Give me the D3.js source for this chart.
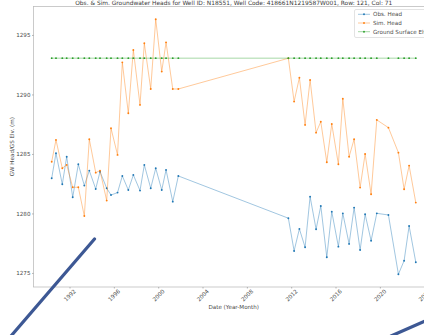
<!DOCTYPE html>
<html>
<head>
<meta charset="utf-8">
<script src="https://cdn.jsdelivr.net/npm/d3@7"></script>
<style>
  html, body { margin: 0; padding: 0; background: #fff; overflow: hidden; }
  svg { display: block; font-family: "DejaVu Sans", sans-serif; }
</style>
</head>
<body>
<svg id="chart" width="424" height="335"></svg>
<script>
// Measurement dates (spring / fall campaigns)
const dates = [
  "1990-05-24","1990-10-12","1991-05-08","1991-09-30","1992-04-15","1992-10-17",
  "1993-05-03","1993-10-14","1994-05-13","1994-10-02","1995-05-10","1995-09-29",
  "1996-05-01","1996-10-06","1997-04-22","1997-10-04","1998-05-12","1998-10-01",
  "1999-04-30","1999-10-12","2000-04-27","2000-09-16","2001-04-25","2001-10-26",
  "2011-09-30","2012-04-06","2012-09-27","2013-04-03","2013-09-15","2014-03-31",
  "2014-09-02","2015-03-19","2015-08-30","2016-04-04","2016-08-28","2017-03-23",
  "2017-09-04","2018-03-21","2018-09-02","2019-03-18","2019-09-22","2020-10-09",
  "2021-09-03","2022-03-10","2022-08-22","2023-03-30"
];

// Observed groundwater head (m)
const obsHead = [
  1282.96,1285.06,1282.45,1284.77,1281.36,1284.13,1282.34,1283.60,1282.06,1283.51,
  1282.12,1281.55,1281.75,1283.15,1281.97,1283.24,1281.92,1284.08,1282.12,1283.80,
  1281.97,1283.66,1280.99,1283.15,
  1279.60,1276.85,1278.70,1277.16,1281.41,1278.67,1280.63,1276.32,1280.15,1277.21,
  1280.01,1277.44,1280.49,1276.93,1279.93,1277.71,1280.01,1279.87,1274.89,1276.03,
  1278.95,1275.90
];

// Simulated groundwater head (m)
const simHead = [
  1284.35,1286.18,1283.80,1284.08,1282.20,1282.20,1279.79,1286.24,1283.43,1283.60,
  1281.08,1287.16,1284.92,1292.70,1288.42,1293.74,1289.12,1294.30,1290.46,1296.32,
  1291.92,1294.38,1290.46,1290.46,
  1293.04,1289.40,1291.41,1287.44,1291.22,1286.79,1287.71,1284.30,1287.52,1284.13,
  1289.64,1284.77,1286.23,1282.17,1285.00,1281.61,1287.86,1287.21,1285.11,1282.03,
  1284.02,1280.91
];

// Ground surface elevation (m)
const groundSurface = dates.map(() => 1293.05);

const seriesNames = ["Obs. Head", "Sim. Head", "Ground Surface Elv."];
const seriesColors = ["#1f77b4", "#ff7f0e", "#2ca02c"];
const yTickValues = [1275, 1280, 1285, 1290, 1295];

const title = "Obs. & Sim. Groundwater Heads for Well ID: N18551, Well Code: 418661N1219587W001, Row: 121, Col: 71";
const xLabel = "Date (Year-Month)";
const yLabel = "GW Head/GS Elv. (m)";

const parse = d3.timeParse("%Y-%m-%d");
const t = dates.map(parse);
const series = [obsHead, simHead, groundSurface].map((vals, i) => ({
  name: seriesNames[i],
  color: seriesColors[i],
  points: vals.map((v, j) => ({ date: t[j], value: v }))
}));

const svg = d3.select("#chart");
const plot = { left: 33.5, right: 434, top: 6.5, bottom: 287 };
const textColor = "#4a4a4a";
const fs = 5.6;

// Axis domains padded by 5% of the data range
const [tMin, tMax] = d3.extent(t);
const tPad = (tMax - tMin) * 0.05;
const x = d3.scaleTime()
  .domain([new Date(+tMin - tPad), new Date(+tMax + tPad)])
  .range([plot.left, plot.right]);

const allVals = obsHead.concat(simHead, groundSurface);
const [vMin, vMax] = d3.extent(allVals);
const vPad = (vMax - vMin) * 0.05;
const y = d3.scaleLinear()
  .domain([vMin - vPad, vMax + vPad])
  .range([plot.bottom, plot.top]);

// Frame
svg.append("rect")
  .attr("x", plot.left).attr("y", plot.top)
  .attr("width", plot.right - plot.left).attr("height", plot.bottom - plot.top)
  .attr("fill", "none").attr("stroke", "#bdbdbd").attr("stroke-width", 0.8);

// Y axis
const yAxis = svg.append("g")
  .attr("transform", `translate(${plot.left},0)`)
  .call(d3.axisLeft(y).tickValues(yTickValues).tickSize(1.5).tickPadding(1.5).tickFormat(d3.format("d")));
yAxis.select(".domain").remove();
yAxis.selectAll("line").attr("stroke", "#888").attr("stroke-width", 0.6);
yAxis.selectAll("text").attr("fill", textColor).style("font-size", fs + "px").style("font-family", "DejaVu Sans");

// X axis
const xTicks = x.ticks(d3.timeYear.every(4));
const xAxis = svg.append("g")
  .attr("transform", `translate(0,${plot.bottom})`)
  .call(d3.axisBottom(x).tickValues(xTicks).tickSize(1.5).tickFormat(d3.timeFormat("%Y")));
xAxis.select(".domain").remove();
xAxis.selectAll("line").attr("stroke", "#888").attr("stroke-width", 0.6);
xAxis.selectAll("text")
  .attr("fill", textColor)
  .style("font-size", fs + "px").style("font-family", "DejaVu Sans")
  .attr("y", 8.5).attr("dy", "0.32em")
  .attr("text-anchor", "middle")
  .attr("transform", "rotate(-45 0 8.5)");

// Axis labels and title
svg.append("text")
  .attr("x", (plot.left + plot.right) / 2).attr("y", 309)
  .attr("text-anchor", "middle").attr("fill", textColor)
  .style("font-size", fs + "px").text(xLabel);

svg.append("text")
  .attr("transform", `translate(13.5,${(plot.top + plot.bottom) / 2}) rotate(-90)`)
  .attr("text-anchor", "middle").attr("fill", textColor)
  .style("font-size", fs + "px").text(yLabel);

svg.append("text")
  .attr("x", (plot.left + plot.right) / 2).attr("y", 4.6)
  .attr("text-anchor", "middle").attr("fill", "#3a3a3a")
  .style("font-size", "5.9px").text(title);

// Series lines and markers
const line = d3.line().x(d => x(d.date)).y(d => y(d.value));
const g = svg.append("g");
series.forEach(s => {
  g.append("path")
    .datum(s.points)
    .attr("d", line)
    .attr("fill", "none")
    .attr("stroke", s.color)
    .attr("stroke-opacity", 0.42)
    .attr("stroke-width", 1);
  g.selectAll(null)
    .data(s.points)
    .join("circle")
    .attr("cx", d => x(d.date))
    .attr("cy", d => y(d.value))
    .attr("r", 0.95)
    .attr("fill", s.color);
});

// Legend
const lg = svg.append("g");
lg.append("rect")
  .attr("x", 354.5).attr("y", 9.5).attr("width", 90).attr("height", 28).attr("rx", 1.5)
  .attr("fill", "#fff").attr("fill-opacity", 0.85)
  .attr("stroke", "#d0d0d0").attr("stroke-width", 0.6);
series.forEach((s, i) => {
  const cy = 14.3 + i * 8.7;
  lg.append("line")
    .attr("x1", 358).attr("x2", 370).attr("y1", cy).attr("y2", cy)
    .attr("stroke", s.color).attr("stroke-opacity", 0.42).attr("stroke-width", 1);
  lg.append("circle").attr("cx", 364).attr("cy", cy).attr("r", 0.95).attr("fill", s.color);
  lg.append("text")
    .attr("x", 373).attr("y", cy).attr("dy", "0.35em")
    .attr("fill", textColor).style("font-size", fs + "px").text(s.name);
});

// Two dark pen strokes drawn across the figure
const strokes = svg.append("g").attr("stroke", "#3d5894").attr("stroke-width", 3.2).attr("stroke-linecap", "round");
strokes.append("line").attr("x1", 94.5).attr("y1", 239).attr("x2", 5).attr("y2", 343);
strokes.append("line").attr("x1", 391).attr("y1", 336).attr("x2", 430).attr("y2", 319);
</script>
</body>
</html>
